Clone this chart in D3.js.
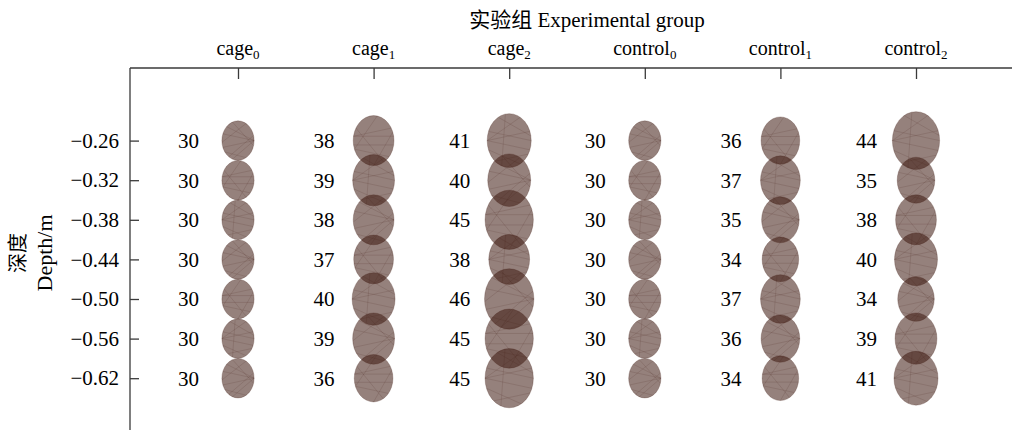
<!DOCTYPE html>
<html>
<head>
<meta charset="utf-8">
<script src="https://cdn.jsdelivr.net/npm/d3@7/dist/d3.min.js"></script>
<style>
  html, body { margin: 0; padding: 0; background: #fff; }
  text { font-family: "Liberation Serif", "Noto Sans CJK SC", serif; fill: #000; }
</style>
</head>
<body>
<svg id="chart" width="1012" height="430"></svg>
<script>
// ---- data ----
const groupNames = ["cage", "cage", "cage", "control", "control", "control"];
const groupSubs = ["0", "1", "2", "0", "1", "2"];
const depths = [-0.26, -0.32, -0.38, -0.44, -0.50, -0.56, -0.62];
const cage0 = [30, 30, 30, 30, 30, 30, 30];
const cage1 = [38, 39, 38, 37, 40, 39, 36];
const cage2 = [41, 40, 45, 38, 46, 45, 45];
const control0 = [30, 30, 30, 30, 30, 30, 30];
const control1 = [36, 37, 35, 34, 37, 36, 34];
const control2 = [44, 35, 38, 40, 34, 39, 41];
const seriesValues = [cage0, cage1, cage2, control0, control1, control2];
const titleText = "实验组 Experimental group";
const yTitleCN = "深度";
const yTitleEN = "Depth/m";

// decorative mesh chords (angle pairs, degrees) drawn inside each ellipse
const chordPatterns = [
  [[0, 160], [0, 200], [0, 135], [15, 235], [345, 110], [60, 185], [300, 215], [0, 250]],
  [[10, 170], [190, 350], [170, 30], [200, 320], [80, 200], [270, 20], [150, 300]],
  [[180, 20], [180, 340], [180, 60], [200, 300], [160, 0], [100, 250], [230, 330], [120, 10]]
];

// ---- layout ----
const svg = d3.select("#chart");
const axisX = 130, axisTopY = 68, bottomY = 430, rightX = 1012;
const groupKeys = groupNames.map((g, i) => g + groupSubs[i]);

const x = d3.scalePoint().domain(groupKeys).range([238, 916]);
const y = d3.scaleLinear().domain([-0.15, -0.70]).range([axisTopY, 431]);
const rx = d3.scaleLinear().domain([0, 46]).range([0, 24.7]);
const aspect = 1.225;

const fillColor = "rgb(62,26,16)";

// ---- ellipses ----
const cells = [];
seriesValues.forEach((vals, gi) => {
  vals.forEach((v, di) => cells.push({ g: groupKeys[gi], gi, di, depth: depths[di], v }));
});

const cellG = svg.append("g").selectAll("g.cell").data(cells).join("g")
  .attr("class", "cell")
  .attr("transform", d => `translate(${x(d.g)},${y(d.depth)})`);

cellG.append("ellipse")
  .attr("rx", d => rx(d.v))
  .attr("ry", d => rx(d.v) * aspect)
  .attr("fill", fillColor)
  .attr("fill-opacity", 0.55)
  .attr("stroke", fillColor)
  .attr("stroke-opacity", 0.3)
  .attr("stroke-width", 0.8);

cellG.each(function (d) {
  const a = rx(d.v), b = a * aspect;
  const pat = chordPatterns[(d.gi + d.di) % chordPatterns.length];
  const pt = deg => [a * Math.cos(deg * Math.PI / 180), -b * Math.sin(deg * Math.PI / 180)];
  d3.select(this).selectAll("line").data(pat).join("line")
    .attr("x1", p => pt(p[0])[0]).attr("y1", p => pt(p[0])[1])
    .attr("x2", p => pt(p[1])[0]).attr("y2", p => pt(p[1])[1])
    .attr("stroke", fillColor)
    .attr("stroke-opacity", 0.22)
    .attr("stroke-width", 0.6);
});

// value labels
svg.append("g").selectAll("text").data(cells).join("text")
  .attr("x", d => x(d.g) - 39)
  .attr("y", d => y(d.depth))
  .attr("dy", "0.35em")
  .attr("text-anchor", "end")
  .attr("font-size", 21)
  .text(d => d.v);

// ---- axes ----
const axisColor = "#3a3a3a";
svg.append("line")
  .attr("x1", axisX).attr("x2", rightX)
  .attr("y1", axisTopY).attr("y2", axisTopY)
  .attr("stroke", axisColor).attr("stroke-width", 1.3);

const topAxis = svg.append("g")
  .attr("transform", `translate(0,${axisTopY})`)
  .call(d3.axisBottom(x).tickSize(11).tickFormat(""));
topAxis.select(".domain").remove();
topAxis.selectAll("line").attr("stroke", axisColor).attr("stroke-width", 1.3);

// header labels with subscripts
const hdr = svg.append("g").selectAll("text").data(groupKeys).join("text")
  .attr("x", d => x(d))
  .attr("y", 55)
  .attr("text-anchor", "middle")
  .attr("font-size", 20);
hdr.append("tspan").text((d, i) => groupNames[i]);
hdr.append("tspan").attr("font-size", 13).attr("dy", 4).attr("fill", "#000").text((d, i) => groupSubs[i]);

// left axis
svg.append("line")
  .attr("x1", axisX).attr("x2", axisX)
  .attr("y1", axisTopY).attr("y2", bottomY)
  .attr("stroke", axisColor).attr("stroke-width", 1.3);

const leftAxis = svg.append("g")
  .attr("transform", `translate(${axisX},0)`)
  .call(d3.axisLeft(y).tickValues(depths).tickSizeInner(-9).tickSizeOuter(0)
    .tickPadding(11).tickFormat(d3.format(".2f")));
leftAxis.select(".domain").remove();
leftAxis.selectAll("line").attr("stroke", axisColor).attr("stroke-width", 1.3);
leftAxis.selectAll("text")
  .attr("font-size", 21)
  .attr("font-family", "'Liberation Serif', serif")
  .attr("fill", "#000");

// titles
svg.append("text")
  .attr("x", 587).attr("y", 27)
  .attr("text-anchor", "middle")
  .attr("font-size", 21)
  .text(titleText);

const yMid = 253;
svg.append("text")
  .attr("transform", `translate(25,${yMid}) rotate(-90)`)
  .attr("text-anchor", "middle")
  .attr("font-size", 20)
  .text(yTitleCN);
svg.append("text")
  .attr("transform", `translate(52,${yMid}) rotate(-90)`)
  .attr("text-anchor", "middle")
  .attr("font-size", 22)
  .text(yTitleEN);
</script>
</body>
</html>
